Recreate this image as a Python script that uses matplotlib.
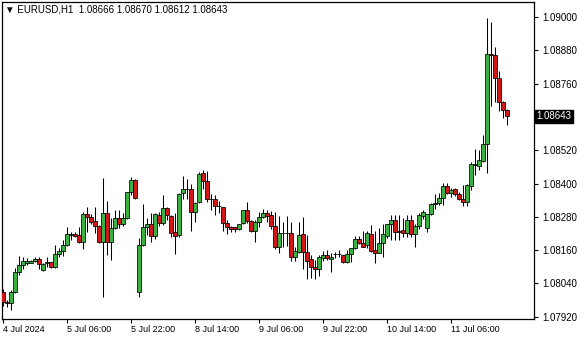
import matplotlib
matplotlib.use('Agg')
import matplotlib.pyplot as plt
from matplotlib.patches import Rectangle

plt.rcParams['font.family'] = ['Liberation Sans', 'DejaVu Sans']

# EURUSD H1, 4 Jul 14:00 .. 11 Jul 20:00 (127 bars)
opens = [1.08009, 1.07973, 1.07969, 1.08009, 1.08081, 1.08106, 1.08114, 1.08114, 1.08121, 1.08128,
         1.08088, 1.08114, 1.08117, 1.08099, 1.08146, 1.08157, 1.08178, 1.08214, 1.08218, 1.08214,
         1.08189, 1.08290, 1.08279, 1.08265, 1.08247, 1.08189, 1.08294, 1.08189, 1.08240, 1.08276,
         1.08254, 1.08276, 1.08369, 1.08413, 1.08009, 1.08178, 1.08243, 1.08254, 1.08211, 1.08287,
         1.08258, 1.08312, 1.08283, 1.08225, 1.08214, 1.08366, 1.08380, 1.08380, 1.08297, 1.08333,
         1.08438, 1.08409, 1.08344, 1.08344, 1.08319, 1.08315, 1.08258, 1.08243, 1.08243, 1.08236,
         1.08258, 1.08305, 1.08265, 1.08229, 1.08261, 1.08279, 1.08294, 1.08287, 1.08247, 1.08171,
         1.08222, 1.08221, 1.08222, 1.08135, 1.08153, 1.08218, 1.08153, 1.08128, 1.08099, 1.08092,
         1.08132, 1.08142, 1.08128, 1.08146, 1.08147, 1.08142, 1.08117, 1.08146, 1.08168, 1.08200,
         1.08186, 1.08178, 1.08218, 1.08160, 1.08150, 1.08186, 1.08211, 1.08254, 1.08269, 1.08229,
         1.08232, 1.08222, 1.08269, 1.08218, 1.08247, 1.08283, 1.08240, 1.08290, 1.08326, 1.08330,
         1.08348, 1.08391, 1.08366, 1.08380, 1.08362, 1.08344, 1.08333, 1.08391, 1.08467, 1.08463,
         1.08481, 1.08542, 1.08866, 1.08863, 1.08780, 1.08694, 1.08666]
highs = [1.08020, 1.07980, 1.08016, 1.08096, 1.08139, 1.08135, 1.08132, 1.08124, 1.08135, 1.08135,
         1.08112, 1.08135, 1.08119, 1.08178, 1.08168, 1.08196, 1.08243, 1.08225, 1.08225, 1.08243,
         1.08297, 1.08315, 1.08290, 1.08315, 1.08249, 1.08420, 1.08337, 1.08276, 1.08305, 1.08305,
         1.08294, 1.08371, 1.08423, 1.08415, 1.08204, 1.08326, 1.08276, 1.08294, 1.08294, 1.08297,
         1.08359, 1.08315, 1.08285, 1.08294, 1.08366, 1.08427, 1.08416, 1.08398, 1.08333, 1.08441,
         1.08449, 1.08445, 1.08362, 1.08359, 1.08337, 1.08317, 1.08269, 1.08247, 1.08245, 1.08256,
         1.08305, 1.08333, 1.08267, 1.08269, 1.08297, 1.08308, 1.08305, 1.08301, 1.08297, 1.08283,
         1.08261, 1.08283, 1.08261, 1.08171, 1.08261, 1.08279, 1.08214, 1.08142, 1.08124, 1.08142,
         1.08157, 1.08160, 1.08150, 1.08153, 1.08160, 1.08144, 1.08160, 1.08168, 1.08211, 1.08211,
         1.08229, 1.08229, 1.08251, 1.08229, 1.08240, 1.08254, 1.08254, 1.08287, 1.08287, 1.08287,
         1.08276, 1.08287, 1.08287, 1.08254, 1.08294, 1.08305, 1.08290, 1.08330, 1.08362, 1.08366,
         1.08402, 1.08402, 1.08384, 1.08384, 1.08369, 1.08395, 1.08398, 1.08477, 1.08524, 1.08521,
         1.08575, 1.08996, 1.08982, 1.08892, 1.08805, 1.08696, 1.08670]
lows = [1.07959, 1.07955, 1.07944, 1.08005, 1.08070, 1.08092, 1.08106, 1.08112, 1.08119, 1.08092,
        1.08086, 1.08099, 1.08097, 1.08097, 1.08135, 1.08139, 1.08176, 1.08196, 1.08207, 1.08187,
        1.08164, 1.08225, 1.08254, 1.08222, 1.08186, 1.07991, 1.08142, 1.08124, 1.08238, 1.08240,
        1.08247, 1.08274, 1.08359, 1.08346, 1.07991, 1.08176, 1.08214, 1.08189, 1.08200, 1.08247,
        1.08251, 1.08269, 1.08207, 1.08146, 1.08207, 1.08344, 1.08344, 1.08229, 1.08261, 1.08331,
        1.08380, 1.08333, 1.08305, 1.08287, 1.08294, 1.08229, 1.08218, 1.08225, 1.08225, 1.08232,
        1.08254, 1.08258, 1.08225, 1.08189, 1.08243, 1.08276, 1.08261, 1.08236, 1.08164, 1.08150,
        1.08171, 1.08175, 1.08121, 1.08121, 1.08150, 1.08092, 1.08056, 1.08060, 1.08056, 1.08067,
        1.08121, 1.08124, 1.08081, 1.08132, 1.08135, 1.08114, 1.08115, 1.08117, 1.08164, 1.08182,
        1.08171, 1.08168, 1.08153, 1.08114, 1.08148, 1.08135, 1.08204, 1.08196, 1.08196, 1.08196,
        1.08207, 1.08207, 1.08207, 1.08171, 1.08236, 1.08272, 1.08225, 1.08288, 1.08308, 1.08323,
        1.08323, 1.08364, 1.08351, 1.08355, 1.08341, 1.08319, 1.08319, 1.08377, 1.08431, 1.08449,
        1.08479, 1.08438, 1.08679, 1.08694, 1.08661, 1.08636, 1.08612]
closes = [1.07973, 1.07971, 1.08009, 1.08081, 1.08106, 1.08121, 1.08121, 1.08121, 1.08128, 1.08110,
          1.08110, 1.08116, 1.08099, 1.08146, 1.08157, 1.08178, 1.08218, 1.08218, 1.08211, 1.08189,
          1.08290, 1.08279, 1.08261, 1.08247, 1.08189, 1.08294, 1.08189, 1.08240, 1.08276, 1.08254,
          1.08276, 1.08369, 1.08413, 1.08348, 1.08178, 1.08243, 1.08254, 1.08211, 1.08290, 1.08258,
          1.08312, 1.08287, 1.08222, 1.08211, 1.08364, 1.08380, 1.08381, 1.08297, 1.08331, 1.08434,
          1.08409, 1.08344, 1.08343, 1.08319, 1.08318, 1.08258, 1.08243, 1.08236, 1.08236, 1.08254,
          1.08303, 1.08265, 1.08229, 1.08261, 1.08279, 1.08294, 1.08283, 1.08247, 1.08171, 1.08222,
          1.08221, 1.08223, 1.08135, 1.08157, 1.08214, 1.08153, 1.08121, 1.08099, 1.08092, 1.08135,
          1.08142, 1.08132, 1.08135, 1.08147, 1.08146, 1.08117, 1.08146, 1.08166, 1.08200, 1.08186,
          1.08172, 1.08222, 1.08157, 1.08150, 1.08186, 1.08218, 1.08254, 1.08269, 1.08225, 1.08225,
          1.08222, 1.08269, 1.08218, 1.08247, 1.08287, 1.08297, 1.08290, 1.08326, 1.08330, 1.08348,
          1.08391, 1.08366, 1.08377, 1.08362, 1.08344, 1.08333, 1.08395, 1.08470, 1.08469, 1.08485,
          1.08542, 1.08867, 1.08864, 1.08780, 1.08694, 1.08665, 1.08643]

date_labels = ['4 Jul 2024', '5 Jul 06:00', '5 Jul 22:00', '8 Jul 14:00',
               '9 Jul 06:00', '9 Jul 22:00', '10 Jul 14:00', '11 Jul 06:00']
label_bars = [0, 16, 32, 48, 64, 80, 96, 112]
price_ticks = [1.07920, 1.08040, 1.08160, 1.08280, 1.08400, 1.08520, 1.08760, 1.08880, 1.09000]
symbol = 'EURUSD,H1'

bull_color = '#3cb043'
bear_color = '#d01818'

fig = plt.figure(figsize=(5.8, 3.4), dpi=100)
ax = fig.add_axes([2 / 580, 21 / 340, 532 / 580, 317 / 340])

for i, (o, h, l, c) in enumerate(zip(opens, highs, lows, closes)):
    ax.vlines(i, l, h, color='black', lw=0.75, zorder=2)
    color = bull_color if c >= o else bear_color
    ax.add_patch(Rectangle((i - 0.38, min(o, c)), 0.76, abs(c - o),
                           facecolor=color, edgecolor='black', lw=0.55, zorder=3))

ax.set_xlim(-0.25, 132.75)
ax.set_ylim(1.07912, 1.09054)

ax.yaxis.tick_right()
ax.set_yticks(price_ticks)
ax.set_yticklabels(['%.5f' % p for p in price_ticks])
ax.set_xticks(label_bars)
ax.set_xticklabels(date_labels, ha='left')
ax.tick_params(axis='y', direction='out', length=3, width=0.8, pad=3, labelsize=7)
ax.tick_params(axis='x', direction='out', length=3, width=0.8, pad=1.5, labelsize=6.5)
for s in ax.spines.values():
    s.set_linewidth(0.9)

# current price marker on the price scale
last = closes[-1]
ax.text(1.005, last, '%.5f' % last, transform=ax.get_yaxis_transform(),
        ha='left', va='center', fontsize=7, color='white',
        bbox=dict(boxstyle='square,pad=0.15', facecolor='black', edgecolor='black'))

fig.text(5 / 580, 1 - 10 / 340,
         '\u25bc ' + symbol + '  ' + ' '.join('%.5f' % v for v in
                                            (opens[-1], highs[-1], lows[-1], closes[-1])),
         ha='left', va='center', fontsize=7)

fig.savefig('out.png', dpi=100)
plt.close(fig)
